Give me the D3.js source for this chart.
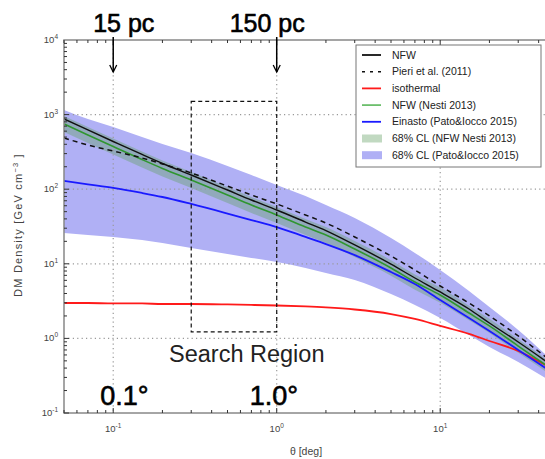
<!DOCTYPE html>
<html><head><meta charset="utf-8">
<script src="https://cdn.jsdelivr.net/npm/d3@7"></script>
<style>
html,body{margin:0;padding:0;background:#fff;}
svg{display:block;font-family:"Liberation Sans",Arial,sans-serif;}
</style></head>
<body><svg id="c" width="545" height="459"></svg>
<script>
// ---- data ----
const theta      = [0.05,0.07,0.1,0.15,0.2,0.3,0.5,0.7,1,1.5,2,3,5,7,10,15,20,30,45];
const nfw        = [873,622,436,292,221,155,97.5,71.6,52.6,36.3,27.9,17.9,9.9,6.45,4.19,2.48,1.61,0.895,0.483];
const pieri      = [486,391,325,262,218,165,110,83.6,63.4,45.1,35.2,22.9,12.7,8.26,5.04,2.98,2.0,1.08,0.546];
const isothermal = [2.98,2.98,2.94,2.94,2.89,2.89,2.85,2.81,2.76,2.68,2.60,2.44,2.12,1.82,1.47,1.15,0.923,0.678,0.427];
const nfwNesti   = [748,533,373,250,190,133,83.6,61.4,45.1,31.1,24.3,15.8,8.79,5.70,3.82,2.19,1.47,0.79,0.427];
const einasto    = [129,116,104,89,78.6,63.4,47.2,38.6,31.1,22.9,18.4,13.1,7.76,5.36,3.27,1.88,1.26,0.70,0.389];
const nestiHi    = [957,682,477,320,243,170,107,78.6,57.7,39.8,31.1,20.2,11.2,7.2,4.8,2.75,1.83,0.98,0.52];
const nestiLo    = [584,416,291,195,148,104,65.3,48.0,35.2,24.3,19.0,12.3,6.9,4.5,3.0,1.75,1.18,0.64,0.35];
const patoHi     = [1153,873,682,501,404,306,205,155,114,81,61.4,41.1,22.2,14.0,8.26,4.32,2.64,1.30,0.581];
const patoLo     = [25.9,24.3,22.9,20.8,19.0,16.3,13.5,12.0,10.6,8.79,7.53,6.07,3.94,2.81,1.88,1.11,0.767,0.483,0.286];
const searchTheta = [0.3, 1.0];
const searchRho   = [1.22, 1500];
const xTickVals = [0.1, 1, 10];
const xTickExp  = ["-1", "0", "1"];
const yTickVals = [0.1, 1, 10, 100, 1000, 10000];
const yTickExp  = ["-1", "0", "1", "2", "3", "4"];
const legendLabels = ["NFW","Pieri et al. (2011)","isothermal","NFW (Nesti 2013)","Einasto (Pato&Iocco 2015)","68% CL (NFW Nesti 2013)","68% CL (Pato&Iocco 2015)"];

// ---- layout ----
const L = 64, T = 40, B = 413;
const svg = d3.select("#c");
const x = d3.scaleLog().domain([0.05, 50]).range([L, L + 3*163.5]);
const y = d3.scaleLog().domain([0.1, 10000]).range([B, T]);
const R = x.range()[1];

svg.append("defs").append("clipPath").attr("id","clip")
  .append("rect").attr("x",L).attr("y",T).attr("width",R-L).attr("height",B-T);

const plot = svg.append("g").attr("clip-path","url(#clip)");
const idx = d3.range(theta.length);

// bands
const area = (lo, hi) => d3.area().x(i => x(theta[i])).y0(i => y(lo[i])).y1(i => y(hi[i])).curve(d3.curveMonotoneX)(idx);
plot.append("path").attr("d", area(patoLo, patoHi)).attr("fill", "#b0b0f5");
plot.append("path").attr("d", area(nestiLo, nestiHi)).attr("fill", "rgb(100,160,100)").attr("fill-opacity", 0.4);

// grid
xTickVals.forEach(v => plot.append("line").attr("x1",x(v)).attr("x2",x(v)).attr("y1",T).attr("y2",B)
  .attr("stroke","#999").attr("stroke-width",1.2).attr("stroke-dasharray","1.2,3.2"));
yTickVals.slice(1,-1).forEach(v => plot.append("line").attr("x1",L).attr("x2",R).attr("y1",y(v)).attr("y2",y(v))
  .attr("stroke","#999").attr("stroke-width",1.2).attr("stroke-dasharray","1.2,3.2"));

// lines
const line = arr => d3.line().x(i => x(theta[i])).y(i => y(arr[i])).curve(d3.curveMonotoneX)(idx);
plot.append("path").attr("d", line(isothermal)).attr("fill","none").attr("stroke","#ff1a1a").attr("stroke-width",1.8);
plot.append("path").attr("d", line(einasto)).attr("fill","none").attr("stroke","#1a1aff").attr("stroke-width",1.8);
plot.append("path").attr("d", line(nfwNesti)).attr("fill","none").attr("stroke","#2f962f").attr("stroke-width",1.6);
plot.append("path").attr("d", line(nfw)).attr("fill","none").attr("stroke","#111").attr("stroke-width",1.4);
plot.append("path").attr("d", line(pieri)).attr("fill","none").attr("stroke","#111").attr("stroke-width",1.5).attr("stroke-dasharray","5,4");

// frame
svg.append("rect").attr("x",L).attr("y",T).attr("width",R-L).attr("height",B-T)
  .attr("fill","none").attr("stroke","#888").attr("stroke-width",1.5);

// ticks
const ax = svg.append("g");
for (let d = -2; d <= 2; d++) for (let m = 1; m <= 9; m++) {
  const v = m * Math.pow(10, d);
  if (v < 0.05 || v > 50) continue;
  const len = m === 1 ? 5 : 3;
  ax.append("line").attr("x1",x(v)).attr("x2",x(v)).attr("y1",B).attr("y2",B-len).attr("stroke","#333").attr("stroke-width",1);
  ax.append("line").attr("x1",x(v)).attr("x2",x(v)).attr("y1",T).attr("y2",T+len).attr("stroke","#333").attr("stroke-width",1);
}
for (let d = -1; d <= 3; d++) for (let m = 1; m <= 9; m++) {
  const v = m * Math.pow(10, d);
  const len = m === 1 ? 5 : 3;
  ax.append("line").attr("x1",L).attr("x2",L+len).attr("y1",y(v)).attr("y2",y(v)).attr("stroke","#333").attr("stroke-width",1);
}

// tick labels
yTickVals.forEach((v,i) => {
  const t = svg.append("text").attr("x",58).attr("y",y(v)+3).attr("text-anchor","end")
    .attr("font-size",9.5).attr("fill","#444");
  t.append("tspan").text("10");
  t.append("tspan").attr("dy",-4).attr("font-size",6.5).text(yTickExp[i]);
});
xTickVals.forEach((v,i) => {
  const t = svg.append("text").attr("x",x(v)).attr("y",432).attr("text-anchor","middle")
    .attr("font-size",9.5).attr("fill","#444");
  t.append("tspan").text("10");
  t.append("tspan").attr("dy",-4).attr("font-size",6.5).text(xTickExp[i]);
});

// axis titles
svg.append("text").attr("x",306).attr("y",455).attr("text-anchor","middle").attr("font-size",10.5).attr("fill","#444").text("θ [deg]");
const yt = svg.append("text").attr("transform","translate(22,225) rotate(-90)").attr("text-anchor","middle")
  .attr("font-size",11).attr("letter-spacing",1.2).attr("fill","#444");
yt.append("tspan").text("DM Density [GeV cm");
yt.append("tspan").attr("dy",-4).attr("font-size",7.5).text("−3");
yt.append("tspan").attr("dy",4).text(" ]");

// search region
svg.append("rect").attr("x",x(searchTheta[0])).attr("y",y(searchRho[1]))
  .attr("width",x(searchTheta[1])-x(searchTheta[0])).attr("height",y(searchRho[0])-y(searchRho[1]))
  .attr("fill","none").attr("stroke","#111").attr("stroke-width",1.2).attr("stroke-dasharray","4,3");
svg.append("text").attr("x",169).attr("y",362).attr("font-size",23.5).attr("fill","#222").text("Search Region");

// annotations
const bold = s => s.attr("fill","#000").attr("stroke","#000").attr("stroke-width",0.6);
bold(svg.append("text").attr("x",x(0.1)-20).attr("y",32).attr("font-size",25).text("15 pc"));
bold(svg.append("text").attr("x",x(1)-47).attr("y",32).attr("font-size",25).text("150 pc"));
bold(svg.append("text").attr("x",x(0.1)-13).attr("y",405).attr("font-size",27).text("0.1°"));
bold(svg.append("text").attr("x",x(1)-27).attr("y",405).attr("font-size",27).text("1.0°"));
[0.1, 1].forEach(v => {
  const cx = x(v);
  svg.append("line").attr("x1",cx).attr("x2",cx).attr("y1",37).attr("y2",72).attr("stroke","#000").attr("stroke-width",1.5);
  svg.append("path").attr("d",`M${cx-3.5},${65} L${cx},${72} L${cx+3.5},${65}`).attr("fill","none").attr("stroke","#000").attr("stroke-width",1.3);
});

// legend
const lg = svg.append("g");
lg.append("rect").attr("x",356).attr("y",45).attr("width",185).attr("height",122).attr("fill","#fff").attr("stroke","#777").attr("stroke-width",1);
const styles = [
  {t:"line", c:"#111", w:1.8},
  {t:"line", c:"#111", w:1.5, d:"3,5"},
  {t:"line", c:"#ff1a1a", w:1.8},
  {t:"line", c:"#6cbf6c", w:1.8},
  {t:"line", c:"#1a1aff", w:1.8},
  {t:"patch", c:"rgb(100,160,100)", o:0.4},
  {t:"patch", c:"#b0b0f5", o:1}
];
legendLabels.forEach((lab,i) => {
  const yy = 55 + i*16.7, s = styles[i];
  if (s.t === "line") {
    const l = lg.append("line").attr("x1",362).attr("x2",381).attr("y1",yy).attr("y2",yy).attr("stroke",s.c).attr("stroke-width",s.w);
    if (s.d) l.attr("stroke-dasharray", s.d);
  } else {
    lg.append("rect").attr("x",362).attr("y",yy-4).attr("width",20).attr("height",8).attr("fill",s.c).attr("fill-opacity",s.o);
  }
  lg.append("text").attr("x",392).attr("y",yy+3.5).attr("font-size",10.5).attr("fill","#222").text(lab);
});
</script></body></html>
